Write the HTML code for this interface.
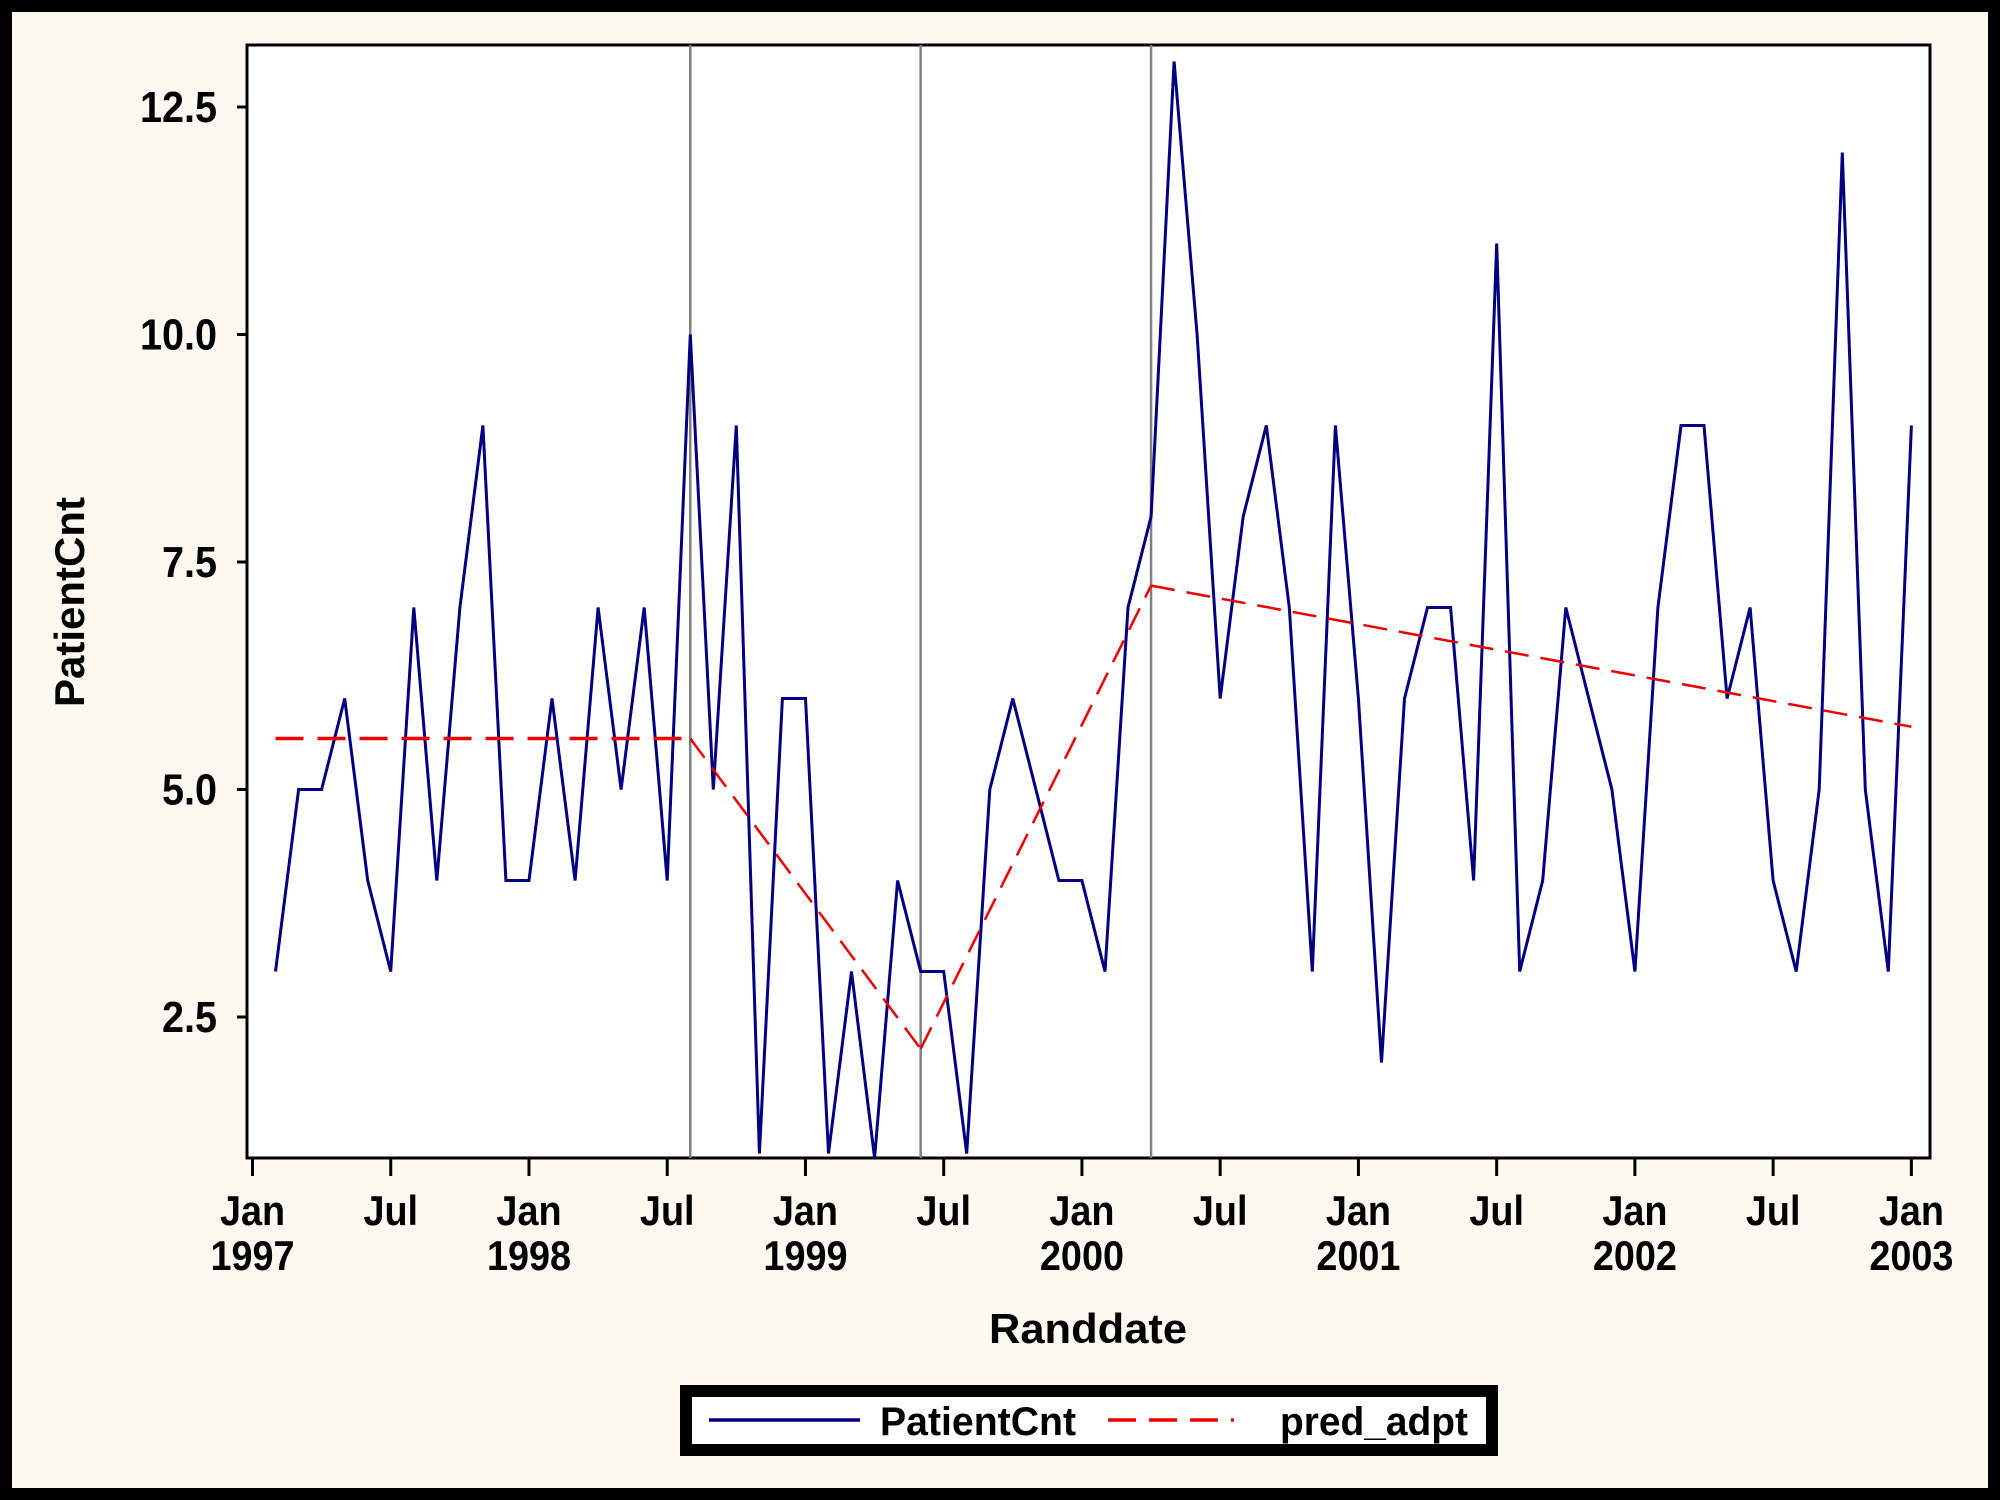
<!DOCTYPE html>
<html><head><meta charset="utf-8"><style>
html,body{margin:0;padding:0;background:#000}
svg{display:block}
text{font-family:"Liberation Sans",sans-serif;font-weight:bold;fill:#000}
</style></head><body>
<svg id="chart" width="2000" height="1500" viewBox="0 0 2000 1500" xmlns="http://www.w3.org/2000/svg">
<rect x="0" y="0" width="2000" height="1500" fill="#000"/>
<rect x="12" y="12" width="1976" height="1476" fill="#fdf9f0"/>
<rect x="247" y="45" width="1683" height="1113" fill="#fff" stroke="#000" stroke-width="3"/>
<g id="grid"></g>
<g id="series"></g>
<g id="axes"></g>
<text x="1088" y="1343" font-size="42" text-anchor="middle" textLength="198" lengthAdjust="spacingAndGlyphs">Randdate</text>
<text x="0" y="0" font-size="42" text-anchor="middle" transform="translate(84,602) rotate(-90)">PatientCnt</text>
<g>
<rect x="686" y="1391" width="806" height="59" fill="#fff" stroke="#000" stroke-width="12"/>
<line x1="709" y1="1420" x2="860" y2="1420" stroke="#000080" stroke-width="3.5"/>
<text x="880" y="1435" font-size="40" textLength="196" lengthAdjust="spacingAndGlyphs">PatientCnt</text>
<line x1="1108" y1="1420" x2="1250" y2="1420" stroke="#e00" stroke-width="3.5" stroke-dasharray="28,13,28,13,28,13,3"/>
<text x="1280" y="1435" font-size="40" textLength="188" lengthAdjust="spacingAndGlyphs">pred_adpt</text>
</g>
</svg>
<script>
// monthly counts Feb 1997 .. Jan 2003 (index 0 = Feb 1997)
const patientCnt = [3,5,5,6,4,3,7,4,7,9,4,
  4,6,4,7,5,7,4,10,5,9,1,6,
  6,1,3,0.95,4,3,3,1,5,6,5,4,
  4,3,7,8,13,10,6,8,9,7,3,9,
  6,2,6,7,7,4,11,3,4,7,6,5,
  3,7,9,9,6,7,4,3,5,12,5,3,
  9];
// predicted piecewise (month index from Jan 1997)
const predMonths = [1,19,29,39,72];
const predValues = [5.56,5.56,2.15,7.24,5.69];
const changePoints = [19,29,39];
const yTicks = [2.5,5.0,7.5,10.0,12.5];
const xTickMonths = [0,6,12,18,24,30,36,42,48,54,60,66,72];
const xTickLabels = [["Jan","1997"],["Jul",""],["Jan","1998"],["Jul",""],["Jan","1999"],["Jul",""],["Jan","2000"],["Jul",""],["Jan","2001"],["Jul",""],["Jan","2002"],["Jul",""],["Jan","2003"]];

const NS="http://www.w3.org/2000/svg";
const X0=252.5, PXM=23.04, PL=247, PR=1930, PT=45, PB=1158;
const xS=m=>X0+m*PXM;
const yS=v=>1017-(v-2.5)*91;
function mk(tag,attrs,parent){const e=document.createElementNS(NS,tag);for(const k in attrs)e.setAttribute(k,attrs[k]);parent.appendChild(e);return e;}
const grid=document.getElementById('grid'),series=document.getElementById('series'),axes=document.getElementById('axes');
changePoints.forEach(m=>{
  const l=mk('line',{x1:xS(m),x2:xS(m),y1:PT,y2:PB,stroke:'#808080','stroke-width':2.5},grid);
  
  
});
const defs=mk('defs',{},series);
const cp=mk('clipPath',{id:'pc'},defs);
mk('rect',{x:PL,y:PT,width:PR-PL,height:PB-PT},cp);
let d='';
patientCnt.forEach((v,i)=>{d+=(i?'L':'M')+xS(i+1).toFixed(1)+','+yS(v).toFixed(1);});
const p=mk('path',{d:d,fill:'none',stroke:'#000080','stroke-width':3,'stroke-linejoin':'miter','clip-path':'url(#pc)'},series);


for(let i=0;i<predMonths.length-1;i++){
  const s=mk('line',{x1:xS(predMonths[i]),y1:yS(predValues[i]),x2:xS(predMonths[i+1]),y2:yS(predValues[i+1]),stroke:'#e00','stroke-width':i==0?3.5:2.5,'stroke-dasharray':i==0?'28,14':'24,12'},series);
  
  
}
yTicks.forEach(v=>{
  const t=mk('line',{x1:PL-10,x2:PL,y1:yS(v),y2:yS(v),stroke:'#000','stroke-width':3},axes);
  
  
  const tx=mk('text',{x:0,y:0,'font-size':44,'text-anchor':'end',transform:'translate('+(PL-30)+','+(yS(v)+15)+') scale(0.9,1)'},axes);
  tx.textContent=v.toFixed(1);
  
  
});
xTickMonths.forEach((m,i)=>{
  const t=mk('line',{x1:xS(m),x2:xS(m),y1:PB,y2:PB+18,stroke:'#000','stroke-width':3},axes);
  
  
  const tx=mk('text',{x:0,y:0,'font-size':42,'text-anchor':'middle',transform:'translate('+xS(m)+',1225) scale(0.9,1)'},axes);
  tx.textContent=xTickLabels[i][0];
  
  
  if(xTickLabels[i][1]){
    const ty=mk('text',{x:0,y:0,'font-size':42,'text-anchor':'middle',transform:'translate('+xS(m)+',1270) scale(0.9,1)'},axes);
    ty.textContent=xTickLabels[i][1];
    
    
  }
});
</script>
</body></html>
